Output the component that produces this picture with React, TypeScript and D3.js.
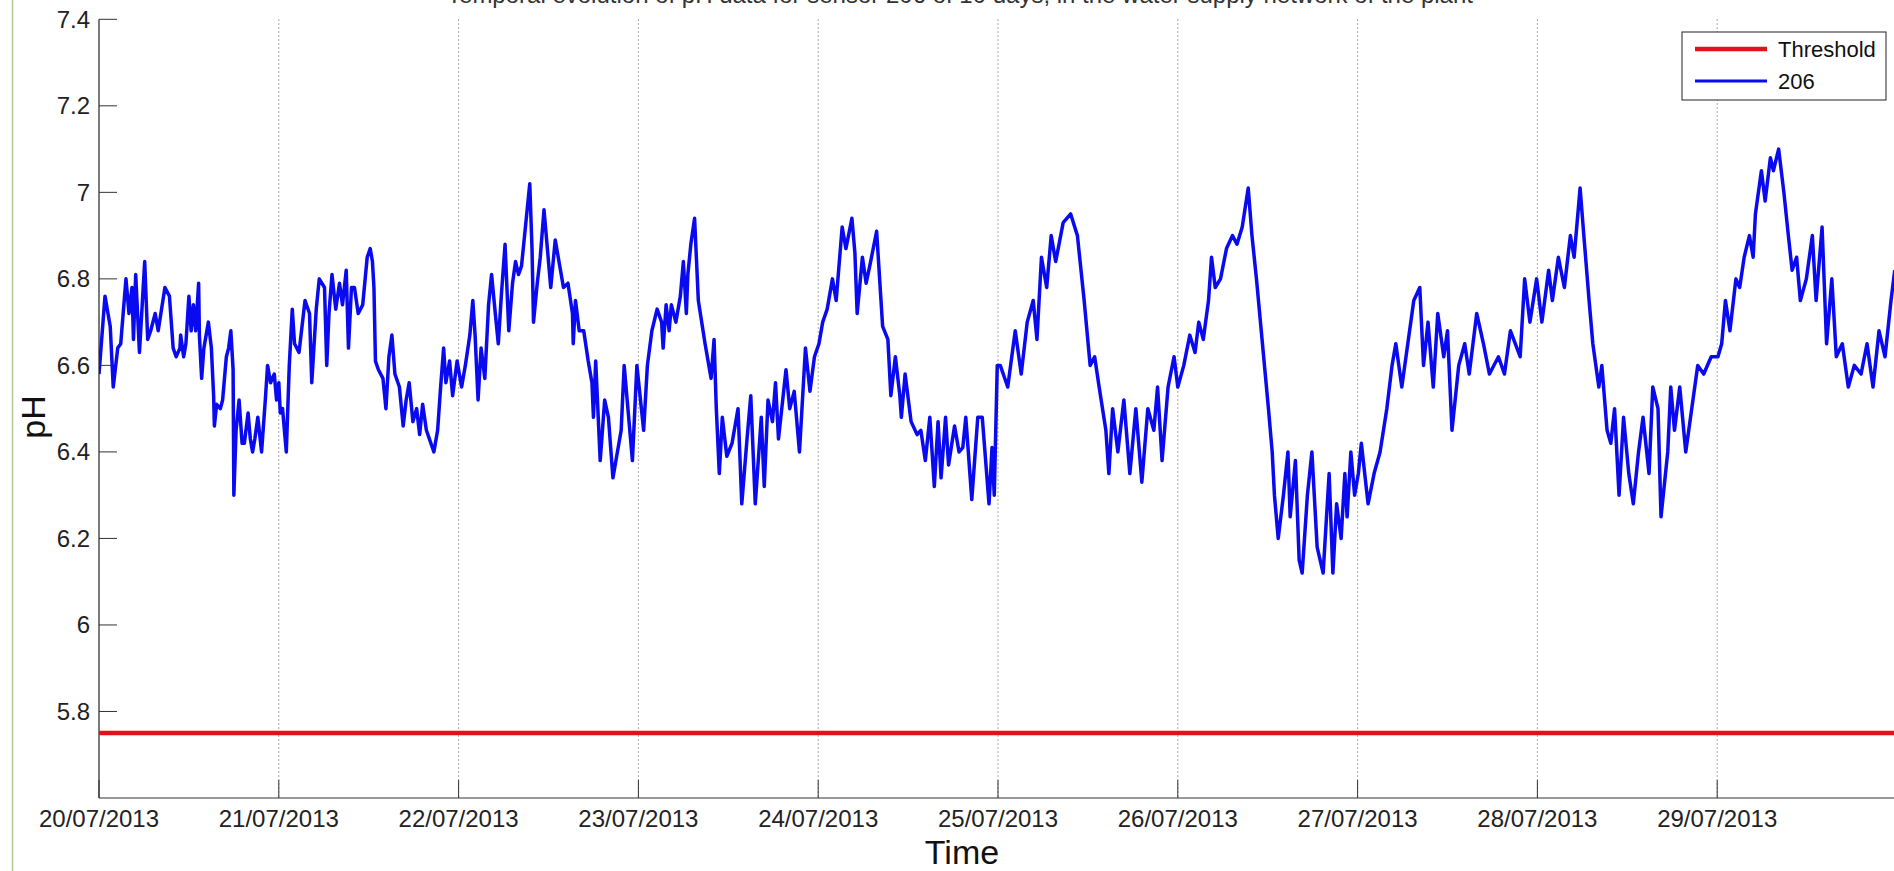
import React from "react";
import * as d3 from "d3";

// ---- data ----
const dateLabels = [
  "20/07/2013", "21/07/2013", "22/07/2013", "23/07/2013", "24/07/2013",
  "25/07/2013", "26/07/2013", "27/07/2013", "28/07/2013", "29/07/2013",
];
const yTickValues = [5.8, 6, 6.2, 6.4, 6.6, 6.8, 7, 7.2, 7.4];
const yTickLabels = ["5.8", "6", "6.2", "6.4", "6.6", "6.8", "7", "7.2", "7.4"];
const thresholdValue = 5.75;
const seriesName = "206";
const thresholdName = "Threshold";
const titleText = "Temporal evolution of pH data for sensor 206 of 10 days, in the water supply network of the plant";

// [hour of the day, pH]
const day20: [number, number][] = [[0.0,6.58],[0.8,6.76],[1.5,6.69],[1.9,6.55],[2.5,6.64],[2.9,6.65],[3.6,6.80],[4.0,6.72],[4.4,6.78],[4.6,6.66],[4.9,6.81],[5.4,6.63],[6.1,6.84],[6.5,6.66],[6.9,6.68],[7.5,6.72],[7.9,6.68],[8.8,6.78],[9.4,6.76],[9.9,6.64],[10.3,6.62],[10.8,6.64],[10.9,6.67],[11.3,6.62],[11.6,6.65],[12.0,6.76],[12.3,6.68],[12.6,6.74],[12.9,6.68],[13.3,6.79],[13.4,6.67],[13.7,6.57],[14.0,6.64],[14.6,6.70],[15.0,6.64],[15.3,6.53],[15.4,6.46],[15.7,6.51],[16.2,6.50],[16.5,6.52],[17.0,6.62],[17.3,6.64],[17.6,6.68],[17.9,6.59],[18.0,6.30],[18.3,6.45],[18.7,6.52],[19.1,6.42],[19.4,6.42],[19.9,6.49],[20.2,6.43],[20.5,6.40],[20.8,6.43],[21.2,6.48],[21.7,6.40],[22.2,6.52],[22.5,6.60],[22.9,6.56],[23.4,6.58],[23.7,6.52]];
const day21: [number, number][] = [[0.0,6.56],[0.2,6.49],[0.5,6.50],[1.0,6.40],[1.4,6.60],[1.8,6.73],[2.1,6.65],[2.7,6.63],[3.5,6.75],[4.1,6.72],[4.4,6.56],[5.0,6.73],[5.4,6.80],[6.1,6.78],[6.4,6.60],[6.7,6.72],[7.1,6.81],[7.6,6.73],[8.1,6.79],[8.5,6.74],[9.0,6.82],[9.3,6.64],[9.7,6.78],[10.1,6.78],[10.6,6.72],[11.2,6.74],[11.8,6.85],[12.2,6.87],[12.5,6.84],[12.7,6.78],[12.9,6.61],[13.3,6.59],[13.9,6.57],[14.3,6.50],[14.7,6.62],[15.1,6.67],[15.5,6.58],[16.1,6.55],[16.6,6.46],[17.0,6.52],[17.4,6.56],[17.9,6.47],[18.4,6.50],[18.8,6.44],[19.2,6.51],[19.7,6.45],[20.7,6.40],[21.2,6.45],[21.6,6.55],[22.0,6.64],[22.3,6.56],[22.8,6.61],[23.2,6.53],[23.8,6.61]];
const day22: [number, number][] = [[0.1,6.58],[0.4,6.55],[0.9,6.60],[1.5,6.67],[1.9,6.75],[2.2,6.67],[2.6,6.52],[3.0,6.64],[3.5,6.57],[4.0,6.74],[4.4,6.81],[4.9,6.72],[5.3,6.65],[5.7,6.76],[6.2,6.88],[6.7,6.68],[7.2,6.79],[7.6,6.84],[8.0,6.81],[8.4,6.83],[9.5,7.02],[9.8,6.87],[10.0,6.70],[10.5,6.79],[10.9,6.85],[11.4,6.96],[11.8,6.88],[12.3,6.78],[12.9,6.89],[13.3,6.85],[14.0,6.78],[14.6,6.79],[15.2,6.72],[15.3,6.65],[15.6,6.75],[16.1,6.68],[16.7,6.68],[17.3,6.61],[17.8,6.56],[18.0,6.48],[18.3,6.61],[18.9,6.38],[19.5,6.52],[20.0,6.48],[20.6,6.34],[21.1,6.39],[21.7,6.45],[22.1,6.60],[22.6,6.50],[23.2,6.38],[23.8,6.60]];
const day23: [number, number][] = [[0.4,6.50],[0.7,6.45],[1.2,6.60],[1.8,6.68],[2.5,6.73],[3.1,6.70],[3.3,6.64],[3.7,6.74],[4.1,6.68],[4.4,6.74],[5.0,6.70],[5.6,6.76],[6.0,6.84],[6.4,6.72],[6.6,6.81],[7.0,6.88],[7.5,6.94],[8.0,6.75],[8.9,6.65],[9.7,6.57],[10.1,6.66],[10.4,6.50],[10.8,6.35],[11.2,6.48],[11.8,6.39],[12.5,6.42],[13.3,6.50],[13.8,6.28],[14.5,6.43],[15.0,6.53],[15.6,6.28],[16.4,6.48],[16.8,6.32],[17.3,6.52],[17.9,6.47],[18.3,6.56],[18.7,6.43],[19.7,6.59],[20.2,6.50],[20.8,6.54],[21.5,6.40],[22.3,6.64],[22.9,6.54],[23.5,6.62]];
const day24: [number, number][] = [[0.1,6.65],[0.6,6.70],[1.2,6.73],[1.9,6.80],[2.4,6.75],[3.2,6.92],[3.7,6.87],[4.5,6.94],[4.9,6.86],[5.2,6.72],[5.9,6.85],[6.4,6.79],[7.0,6.84],[7.8,6.91],[8.6,6.69],[9.3,6.66],[9.7,6.53],[10.3,6.62],[10.9,6.53],[11.1,6.48],[11.6,6.58],[12.4,6.47],[13.2,6.44],[13.7,6.45],[14.3,6.38],[14.9,6.48],[15.5,6.32],[16.0,6.47],[16.4,6.34],[17.0,6.48],[17.4,6.37],[18.2,6.46],[18.8,6.40],[19.3,6.41],[19.7,6.48],[20.5,6.29],[21.3,6.48],[21.9,6.48],[22.8,6.28],[23.2,6.41],[23.5,6.30],[23.9,6.60]];
const day25: [number, number][] = [[0.3,6.60],[1.3,6.55],[2.3,6.68],[3.1,6.58],[3.9,6.70],[4.7,6.75],[5.2,6.66],[5.8,6.85],[6.5,6.78],[7.1,6.90],[7.7,6.84],[8.7,6.93],[9.7,6.95],[10.6,6.90],[11.5,6.75],[12.3,6.60],[12.9,6.62],[13.5,6.55],[14.4,6.45],[14.8,6.35],[15.3,6.50],[16.0,6.40],[16.8,6.52],[17.6,6.35],[18.4,6.50],[19.2,6.33],[20.0,6.50],[20.8,6.45],[21.3,6.55],[21.9,6.38],[22.7,6.55],[23.5,6.62]];
const day26: [number, number][] = [[0.0,6.55],[0.8,6.60],[1.6,6.67],[2.3,6.63],[2.8,6.70],[3.4,6.66],[4.1,6.75],[4.5,6.85],[5.0,6.78],[5.7,6.80],[6.5,6.87],[7.3,6.90],[7.9,6.88],[8.6,6.92],[9.4,7.01],[9.9,6.90],[10.5,6.80],[11.3,6.65],[12.1,6.50],[12.6,6.40],[12.9,6.30],[13.4,6.20],[14.1,6.30],[14.7,6.40],[15.0,6.25],[15.7,6.38],[16.2,6.15],[16.6,6.12],[17.3,6.30],[17.9,6.40],[18.6,6.18],[19.4,6.12],[20.2,6.35],[20.7,6.12],[21.2,6.28],[21.8,6.20],[22.3,6.35],[22.6,6.25],[23.1,6.40],[23.6,6.30]];
const day27: [number, number][] = [[0.1,6.35],[0.5,6.42],[1.4,6.28],[2.2,6.35],[3.0,6.40],[3.9,6.50],[4.6,6.60],[5.1,6.65],[5.9,6.55],[6.7,6.65],[7.5,6.75],[8.3,6.78],[8.8,6.60],[9.4,6.70],[10.1,6.55],[10.7,6.72],[11.5,6.62],[12.0,6.68],[12.6,6.45],[13.5,6.60],[14.3,6.65],[14.9,6.58],[15.9,6.72],[16.8,6.65],[17.6,6.58],[18.8,6.62],[19.6,6.58],[20.4,6.68],[21.7,6.62],[22.3,6.80],[23.0,6.70],[23.9,6.80]];
const day28: [number, number][] = [[0.6,6.70],[1.5,6.82],[2.0,6.75],[2.8,6.85],[3.6,6.78],[4.4,6.90],[4.9,6.85],[5.7,7.01],[6.2,6.90],[6.9,6.75],[7.4,6.65],[8.2,6.55],[8.6,6.60],[9.3,6.45],[9.8,6.42],[10.3,6.50],[10.9,6.30],[11.5,6.48],[12.2,6.35],[12.8,6.28],[13.5,6.40],[14.1,6.48],[14.9,6.35],[15.4,6.55],[16.1,6.50],[16.5,6.25],[17.4,6.40],[17.8,6.55],[18.3,6.45],[19.0,6.55],[19.8,6.40],[20.6,6.50],[21.4,6.60],[22.2,6.58],[23.2,6.62]];
const day29: [number, number][] = [[0.1,6.62],[0.6,6.65],[1.1,6.75],[1.7,6.68],[2.5,6.80],[3.0,6.78],[3.6,6.85],[4.3,6.90],[4.8,6.85],[5.1,6.95],[5.9,7.05],[6.4,6.98],[7.1,7.08],[7.5,7.05],[8.2,7.10],[8.9,7.00],[9.5,6.90],[10.0,6.82],[10.6,6.85],[11.1,6.75],[11.9,6.80],[12.7,6.90],[13.2,6.75],[14.0,6.92],[14.6,6.65],[15.3,6.80],[15.9,6.62],[16.7,6.65],[17.5,6.55],[18.3,6.60],[19.2,6.58],[20.0,6.65],[20.8,6.55],[21.6,6.68],[22.4,6.62],[23.2,6.75],[23.7,6.82]];

const days = [day20, day21, day22, day23, day24, day25, day26, day27, day28, day29];

// ---- layout ----
const W = 1894;
const H = 871;
const left = 99;
const right = 1897;
const top = 19.3;
const bottom = 798;
const FONT = "'Liberation Sans', Arial, Helvetica, sans-serif";

export default function App() {
  const x = d3.scaleLinear().domain([0, 240]).range([left, right]);
  const y = d3.scaleLinear().domain([5.6, 7.4]).range([bottom, top]);
  const series: [number, number][] = days.flatMap((d, i) =>
    d.map(([h, v]) => [i * 24 + h, v] as [number, number])
  );
  const line = d3
    .line<[number, number]>()
    .x((d) => x(d[0]))
    .y((d) => y(d[1]));
  const dayTicks = dateLabels.map((_, i) => i * 24);
  const tickLen = 18;

  return (
    <svg
      width={W}
      height={H}
      style={{ position: "absolute", left: 0, top: 0, background: "#fff" }}
      fontFamily={FONT}
    >
      <defs>
        <clipPath id="plotclip">
          <rect x={left} y={top - 2} width={W - left} height={bottom - top + 2} />
        </clipPath>
      </defs>
      <rect x={0} y={0} width={W} height={H} fill="#fff" />
      {/* page border line */}
      <line x1={12.5} x2={12.5} y1={0} y2={H} stroke="#b3c79a" strokeWidth={1.5} />

      {/* title (mostly cut off at the top, as in the source figure) */}
      <text x={960} y={3} textAnchor="middle" fontSize={24} fill="#333">
        {titleText}
      </text>

      {/* vertical dotted grid */}
      {dayTicks.slice(1).map((t) => (
        <line
          key={"g" + t}
          x1={x(t)}
          x2={x(t)}
          y1={top}
          y2={bottom}
          stroke="#8a8a8a"
          strokeWidth={1}
          strokeDasharray="1.5,2.5"
        />
      ))}

      {/* axes */}
      <line x1={left} x2={left} y1={top} y2={bottom} stroke="#222" strokeWidth={1.2} />
      <line x1={left} x2={W} y1={bottom} y2={bottom} stroke="#333" strokeWidth={1.2} />

      {/* y ticks */}
      {yTickValues.map((v, i) => (
        <g key={"y" + v}>
          <line x1={left} x2={left + tickLen} y1={y(v)} y2={y(v)} stroke="#333" strokeWidth={1} />
          <text x={90} y={y(v) + 8.5} textAnchor="end" fontSize={24} fill="#222">
            {yTickLabels[i]}
          </text>
        </g>
      ))}

      {/* x ticks */}
      {dayTicks.map((t, i) => (
        <g key={"x" + t}>
          <line x1={x(t)} x2={x(t)} y1={bottom} y2={bottom - tickLen} stroke="#333" strokeWidth={1} />
          <text x={x(t)} y={827} textAnchor="middle" fontSize={24} fill="#222">
            {dateLabels[i]}
          </text>
        </g>
      ))}

      {/* data */}
      <g clipPath="url(#plotclip)">
        <line
          x1={x(0)}
          x2={x(240)}
          y1={y(thresholdValue)}
          y2={y(thresholdValue)}
          stroke="#e4101a"
          strokeWidth={4.5}
        />
        <path
          d={line(series) || ""}
          fill="none"
          stroke="#0a0af0"
          strokeWidth={3.5}
          strokeLinejoin="round"
        />
      </g>

      {/* axis labels */}
      <text x={962} y={864} textAnchor="middle" fontSize={34} fill="#111">
        Time
      </text>
      <text
        transform={`translate(45,417) rotate(-90)`}
        textAnchor="middle"
        fontSize={34}
        fill="#111"
      >
        pH
      </text>

      {/* legend */}
      <g>
        <rect x={1682} y={32} width={204} height={68} fill="#fff" stroke="#222" strokeWidth={1} />
        <line x1={1695} x2={1767} y1={49} y2={49} stroke="#e4101a" strokeWidth={4.5} />
        <text x={1778} y={57} fontSize={22} fill="#111">
          {thresholdName}
        </text>
        <line x1={1695} x2={1767} y1={81} y2={81} stroke="#0a0af0" strokeWidth={3} />
        <text x={1778} y={89} fontSize={22} fill="#111">
          {seriesName}
        </text>
      </g>
    </svg>
  );
}
